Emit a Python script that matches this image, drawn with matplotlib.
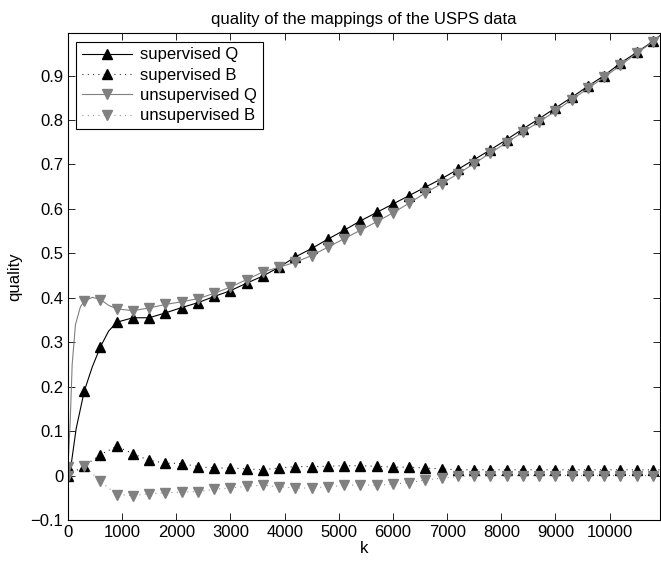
import numpy as np
import matplotlib
matplotlib.use('Agg')
import matplotlib.pyplot as plt

plt.rcParams['font.family'] = ['Liberation Sans', 'DejaVu Sans']

# marker positions (every 300 in k)
k_marks = np.arange(0, 10801, 300)

sup_q = [0.02, 0.19, 0.29, 0.345, 0.355, 0.355, 0.366, 0.378, 0.389, 0.403,
         0.416, 0.433, 0.449, 0.469, 0.492, 0.511, 0.532, 0.552, 0.573, 0.592,
         0.611, 0.630, 0.649, 0.668, 0.689, 0.711, 0.733, 0.756, 0.780, 0.803,
         0.827, 0.851, 0.876, 0.900, 0.928, 0.952, 0.977]
sup_b = [0.0, 0.022, 0.047, 0.066, 0.049, 0.034, 0.028, 0.027, 0.020, 0.017,
         0.017, 0.015, 0.013, 0.017, 0.020, 0.020, 0.021, 0.022, 0.022, 0.021,
         0.019, 0.019, 0.017, 0.015, 0.013, 0.013, 0.013, 0.013, 0.013, 0.013,
         0.013, 0.013, 0.013, 0.013, 0.013, 0.013, 0.013]
unsup_q = [0.02, 0.392, 0.396, 0.375, 0.371, 0.377, 0.385, 0.391, 0.398, 0.410,
           0.424, 0.441, 0.458, 0.469, 0.480, 0.495, 0.514, 0.533, 0.552, 0.571,
           0.591, 0.613, 0.636, 0.657, 0.679, 0.702, 0.726, 0.749, 0.773, 0.796,
           0.820, 0.846, 0.871, 0.896, 0.923, 0.950, 0.976]
unsup_b = [0.0, 0.022, -0.013, -0.043, -0.045, -0.041, -0.039, -0.037, -0.036, -0.031,
           -0.028, -0.024, -0.022, -0.025, -0.028, -0.028, -0.025, -0.022, -0.021, -0.022,
           -0.019, -0.016, -0.010, -0.006, -0.002, -0.001, 0.0, 0.0, 0.0, 0.0,
           0.0, 0.0, 0.0, 0.0, 0.0, 0.0, 0.0]

# extra points
k_end = 10930
sup_q_extra_k = [45, 150, 450, 750, k_end]
sup_q_extra = [0.013, 0.105, 0.245, 0.325, 0.99]
unsup_q_extra_k = [40, 77, 138, 230, 446, 750, k_end]
unsup_q_extra = [0.12, 0.25, 0.34, 0.38, 0.401, 0.383, 0.99]
b_extra_k = [k_end]
sup_b_extra = [0.013]
unsup_b_extra = [0.0]

xtick_vals = np.arange(0, 10001, 1000)
ytick_vals = np.round(np.arange(-0.1, 0.91, 0.1), 1)
ytick_labels = ['\u22120.1', '0', '0.1', '0.2', '0.3', '0.4', '0.5', '0.6', '0.7', '0.8', '0.9']


def merge(kx, vx, ke, ve):
    k = np.concatenate([kx, ke])
    v = np.concatenate([vx, ve])
    order = np.argsort(k, kind='stable')
    k, v = k[order], v[order]
    marks = [i for i, kk in enumerate(k) if kk in set(kx.tolist())]
    return k, v, marks


fig = plt.figure(figsize=(6.61, 5.61), dpi=100)
ax = fig.add_axes([68 / 661, 1 - 520 / 561, 592 / 661, 486.7 / 561])

gray = '#808080'
ms = 7.5
dots = (0.8, 4)
fs = 12

k, v, m = merge(k_marks, sup_q, sup_q_extra_k, sup_q_extra)
ax.plot(k, v, '-', color='black', lw=0.8, marker='^', ms=ms, markevery=m,
        label='supervised Q')
k, v, m = merge(k_marks, sup_b, b_extra_k, sup_b_extra)
ax.plot(k, v, color='black', lw=0.8, dashes=dots, marker='^', ms=ms, markevery=m,
        label='supervised B')
k, v, m = merge(k_marks, unsup_q, unsup_q_extra_k, unsup_q_extra)
ax.plot(k, v, '-', color=gray, lw=0.8, marker='v', ms=ms, markevery=m,
        label='unsupervised Q')
k, v, m = merge(k_marks, unsup_b, b_extra_k, unsup_b_extra)
ax.plot(k, v, color=gray, lw=0.8, dashes=dots, marker='v', ms=ms, markevery=m,
        label='unsupervised B')

ax.set_xlim(0, k_end)
ax.set_ylim(-0.1, 0.995)
ax.set_xticks(xtick_vals)
ax.set_xticklabels([str(x) for x in xtick_vals])
ax.set_yticks(ytick_vals)
ax.set_yticklabels(ytick_labels)
ax.tick_params(direction='in', top=True, right=True, length=5, width=0.6,
               labelsize=fs)
for s in ax.spines.values():
    s.set_linewidth(0.8)

ax.set_xlabel('k', fontsize=fs, labelpad=1)
ax.set_ylabel('quality', fontsize=fs, labelpad=6)
ax.set_title('quality of the mappings of the USPS data', fontsize=fs, pad=7)

leg = ax.legend(loc='upper left', numpoints=1, handlelength=3.0, fontsize=fs,
                fancybox=False, framealpha=1, edgecolor='black',
                borderpad=0.35, labelspacing=0.32, handletextpad=0.5,
                borderaxespad=0.5)
leg.get_frame().set_linewidth(0.8)

fig.savefig('out.png', dpi=100)
